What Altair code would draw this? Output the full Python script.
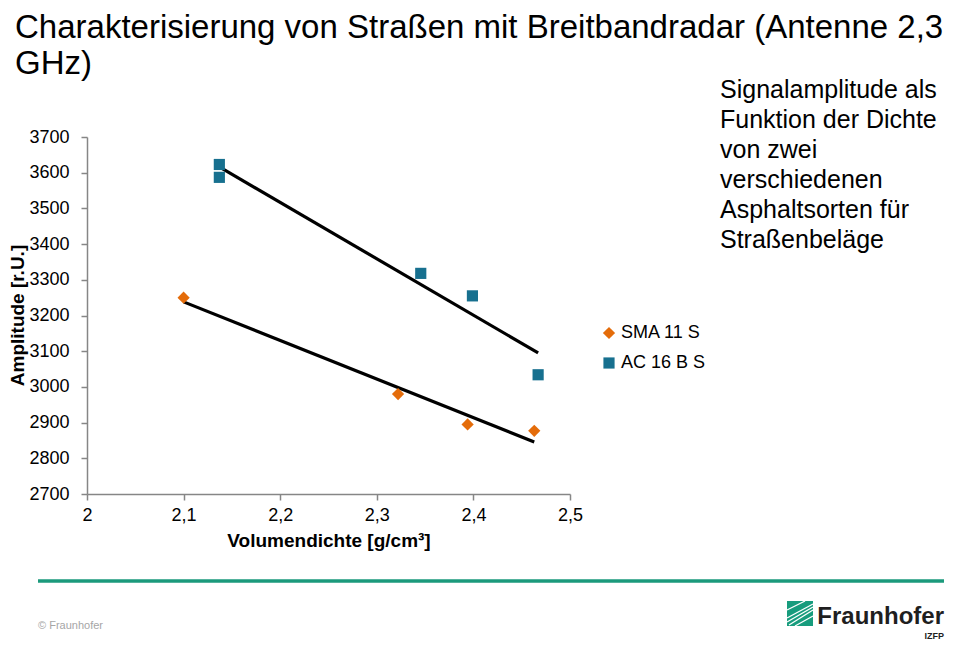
import altair as alt
import pandas as pd

# ---- data ----
series_names = ["SMA 11 S", "AC 16 B S"]
sma_x = [2.100, 2.322, 2.394, 2.463]
sma_y = [3250, 2980, 2895, 2877]
ac_x = [2.137, 2.137, 2.3455, 2.399, 2.467]
ac_y = [3623, 3587, 3318, 3255, 3034]
x_ticks = [2.0, 2.1, 2.2, 2.3, 2.4, 2.5]
y_ticks = [2700, 2800, 2900, 3000, 3100, 3200, 3300, 3400, 3500, 3600, 3700]

title_text = "Charakterisierung von Straßen mit Breitbandradar (Antenne 2,3\nGHz)"
side_text = "Signalamplitude als\nFunktion der Dichte\nvon zwei\nverschiedenen\nAsphaltsorten für\nStraßenbeläge"
footer_text = "© Fraunhofer"
logo_text = "Fraunhofer"
logo_sub = "IZFP"

FONT = "Liberation Sans, Arial, sans-serif"

df = pd.DataFrame({
    "x": sma_x + ac_x,
    "y": sma_y + ac_y,
    "series": [series_names[0]] * len(sma_x) + [series_names[1]] * len(ac_x),
})

OX, OY = 87, 137  # page position of plot origin

xscale = alt.Scale(domain=[2.0, 2.5], nice=False, zero=False)
yscale = alt.Scale(domain=[2700, 3700], nice=False, zero=False)

x_axis = alt.Axis(values=x_ticks, title="Volumendichte [g/cm³]",
                  labelExpr="replace(format(datum.value, '~g'), '.', ',')",
                  labelFontSize=18, labelPadding=6, titlePadding=7,
                  titleFontSize=19, labelOverlap=False, labelFlush=False)
y_axis = alt.Axis(values=y_ticks, title="Amplitude [r.U.]", format="d",
                  labelFontSize=18, labelPadding=12, titleFontSize=19,
                  titleAngle=270, titleBaseline="middle", titleAlign="center",
                  titleX=17 - OX, titleY=178, labelOverlap=False, labelFlush=False)

leg = alt.Legend(title=None, orient="none", legendX=600 - OX, legendY=324 - OY,
                 labelFontSize=18, labelFont=FONT, labelColor="black",
                 symbolSize=64, rowPadding=12, labelOffset=3, padding=0)

points = alt.Chart(df).mark_point(filled=True, opacity=1).encode(
    x=alt.X("x:Q", scale=xscale, axis=x_axis),
    y=alt.Y("y:Q", scale=yscale, axis=y_axis),
    color=alt.Color("series:N",
                    scale=alt.Scale(domain=series_names, range=["#E46C0A", "#17708F"]),
                    legend=leg),
    shape=alt.Shape("series:N",
                    scale=alt.Scale(domain=series_names, range=["diamond", "square"]),
                    legend=leg),
    size=alt.Size("series:N",
                  scale=alt.Scale(domain=series_names, range=[150, 125]),
                  legend=None),
)

trend = alt.Chart(df).transform_regression(
    "x", "y", groupby=["series"]
).mark_line(color="black", strokeWidth=3.2).encode(
    x=alt.X("x:Q", scale=xscale, axis=x_axis),
    y=alt.Y("y:Q", scale=yscale, axis=y_axis),
    detail="series:N",
)

def text_layer(text, px, py, size, bold=False, color="black", align="left", font=FONT, line_height=None):
    kw = dict(align=align, baseline="alphabetic", fontSize=size, font=font,
              fontWeight="bold" if bold else "normal", color=color, lineBreak="\n")
    if line_height:
        kw["lineHeight"] = line_height
    return alt.Chart(pd.DataFrame({"t": [text]})).mark_text(**kw).encode(
        x=alt.value(px - OX), y=alt.value(py - OY), text="t:N")

title = text_layer(title_text, 15, 38, 33, line_height=36)
side = text_layer(side_text, 720, 98, 25, line_height=30)
footer = text_layer(footer_text, 38, 629, 11, color="#a6a6a6")
logo_word = text_layer(logo_text, 944, 624, 24, bold=True, color="#1f1f1f", align="right")
logo_izfp = text_layer(logo_sub, 944, 639, 9, bold=True, color="#1f1f1f", align="right")

one = pd.DataFrame({"k": [0]})
green_rule = alt.Chart(one).mark_rule(color="#1B9A7C", strokeWidth=3.5).encode(
    x=alt.value(38 - OX), x2=alt.value(944 - OX), y=alt.value(581 - OY))
logo_box = alt.Chart(one).mark_rect(color="#179C7D").encode(
    x=alt.value(787 - OX), x2=alt.value(813 - OX), y=alt.value(601 - OY), y2=alt.value(626 - OY))

stripes = [
    alt.Chart(one).mark_rule(color="white", strokeWidth=1.3).encode(
        x=alt.value(a - OX), x2=alt.value(b - OX), y=alt.value(c - OY), y2=alt.value(d - OY))
    for a, b, c, d in [(787, 805, 610, 601), (787, 813, 618, 604), (789, 813, 625, 610),
                       (795, 813, 626, 616), (787, 813, 622, 607)]
]

chart = alt.layer(
    green_rule, logo_box, *stripes, trend, points, title, side, footer, logo_word, logo_izfp
).properties(
    width=483, height=357,
    autosize=alt.AutoSizeParams(type="none"),
    padding={"left": OX - 8, "top": OY - 8, "right": 944 - (OX - 8) - 483, "bottom": 632 - (OY - 8) - 357},
).configure_view(stroke=None).configure_axis(
    grid=False, domainColor="#868686", tickColor="#868686", domainWidth=1.5, tickWidth=1.5,
    tickSize=6, labelColor="black", labelFont=FONT, titleFont=FONT, titleColor="black",
    titleFontWeight="bold",
)

chart.save("out.html", embed_options={"renderer": "svg", "actions": False})
